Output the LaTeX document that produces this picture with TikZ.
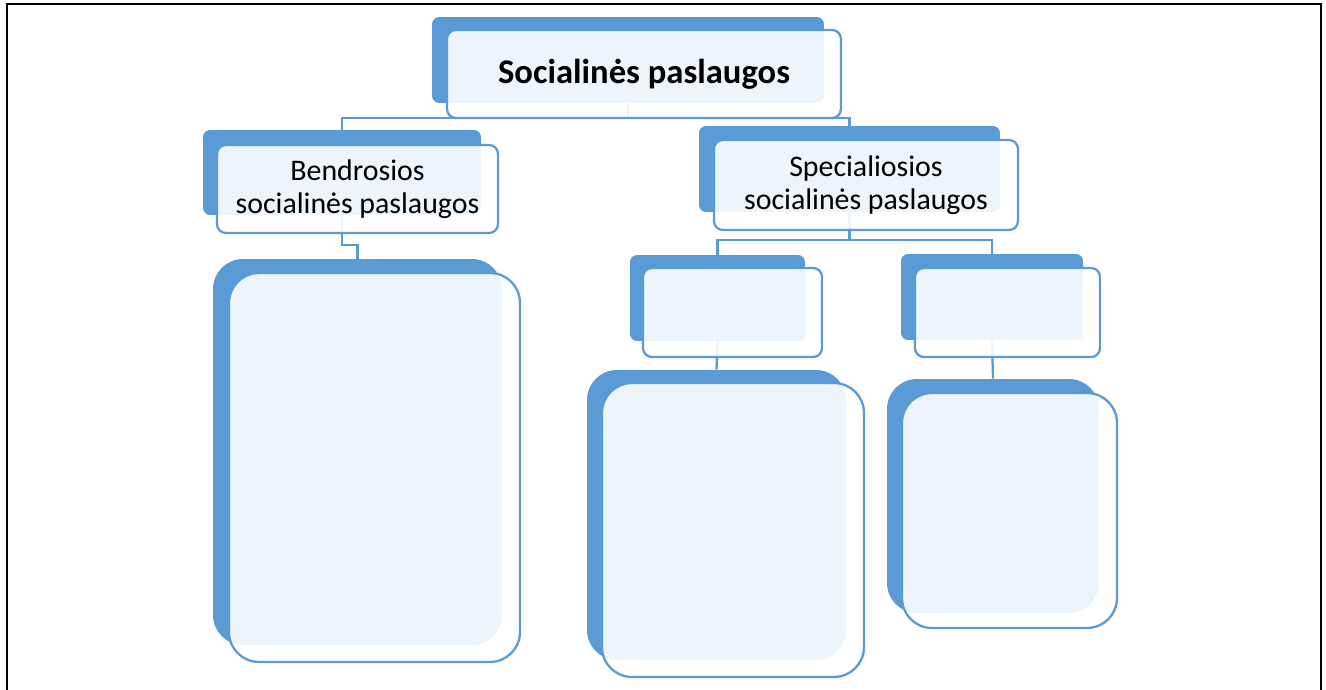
\documentclass[tikz,border=0pt]{standalone}
\usepackage{fontspec}
\setmainfont{Carlito}
\definecolor{boxblue}{HTML}{5B9BD5}
\begin{document}
\begin{tikzpicture}[x=0.02cm, y=-0.02cm,
  back node/.style={rectangle,rounded corners=#1,fill=boxblue,draw=none,inner sep=0pt},
  back node/.default=4pt,
  front node/.style={rectangle,rounded corners=#1,draw=boxblue,line width=1.3pt,fill=white,fill opacity=.9,text opacity=1,inner sep=0pt,align=center},
  front node/.default=5pt,
  link/.style={draw=boxblue,line width=1.3pt},
  label text/.style={font=\fontsize{17}{18.8}\selectfont}]
\useasboundingbox (0,0) rectangle (1326,690);
\draw[line width=1.4pt] (7,692) -- (7,4) -- (1321,4) -- (1321,692);
% back boxes
\node [back node, minimum width=7.84cm, minimum height=1.72cm](root-b) at (628,60) {};
\node [back node, minimum width=5.56cm, minimum height=1.70cm](bend-b) at (342,172.5) {};
\node [back node, minimum width=6.02cm, minimum height=1.72cm](spec-b) at (849.5,169) {};
\node [back node, minimum width=3.50cm, minimum height=1.72cm](sub1-b) at (717.5,298) {};
\node [back node, minimum width=3.64cm, minimum height=1.72cm](sub2-b) at (992,297) {};
\node [back node=17pt, minimum width=5.78cm, minimum height=7.72cm](list1-b) at (357.5,452) {};
\node [back node=17pt, minimum width=5.18cm, minimum height=5.80cm](list2-b) at (716.5,515) {};
\node [back node=17pt, minimum width=4.24cm, minimum height=4.68cm](list3-b) at (993,496) {};
% connectors
\coordinate (root-j) at ([yshift=-0.3cm]root-b.south);
\coordinate (bend-j) at ([yshift=-0.6cm]bend-b.south);
\coordinate (spec-j) at ([yshift=-0.56cm]spec-b.south);
\draw[link] (root-b.south) -- (root-j) (bend-b.north) |- (root-j) -| (spec-b.north);
\draw[link] (bend-b.south) -- (bend-j) -| (list1-b.north);
\draw[link] (spec-b.south) -- (spec-j) (sub1-b.north) |- (spec-j) -| (sub2-b.north);
\draw[link] (sub1-b.south) -- (list2-b.north);
\draw[link] (sub2-b.south) -- (list3-b.north);
% front boxes
\node [front node, minimum width=7.88cm, minimum height=1.76cm, font=\fontsize{19.7}{22}\selectfont\bfseries](root) at (644,74) {Socialinės paslaugos};
\begin{scope}[every node/.style={label text}]
\node [front node, minimum width=5.62cm, minimum height=1.76cm](bend) at (357.5,189) {Bendrosios\\socialinės paslaugos};
\node [front node, minimum width=6.08cm, minimum height=1.80cm](spec) at (866,185) {Specialiosios\\socialinės paslaugos};
\end{scope}
\node [front node, minimum width=3.58cm, minimum height=1.78cm](sub1) at (732.5,312.5) {};
\node [front node, minimum width=3.70cm, minimum height=1.78cm](sub2) at (1007.5,312.5) {};
\node [front node=17pt, minimum width=5.82cm, minimum height=7.78cm](list1) at (374.5,467.5) {};
\node [front node=17pt, minimum width=5.24cm, minimum height=5.88cm](list2) at (733,530) {};
\node [front node=17pt, minimum width=4.30cm, minimum height=4.70cm](list3) at (1009.5,510.5) {};
\end{tikzpicture}
\end{document}
